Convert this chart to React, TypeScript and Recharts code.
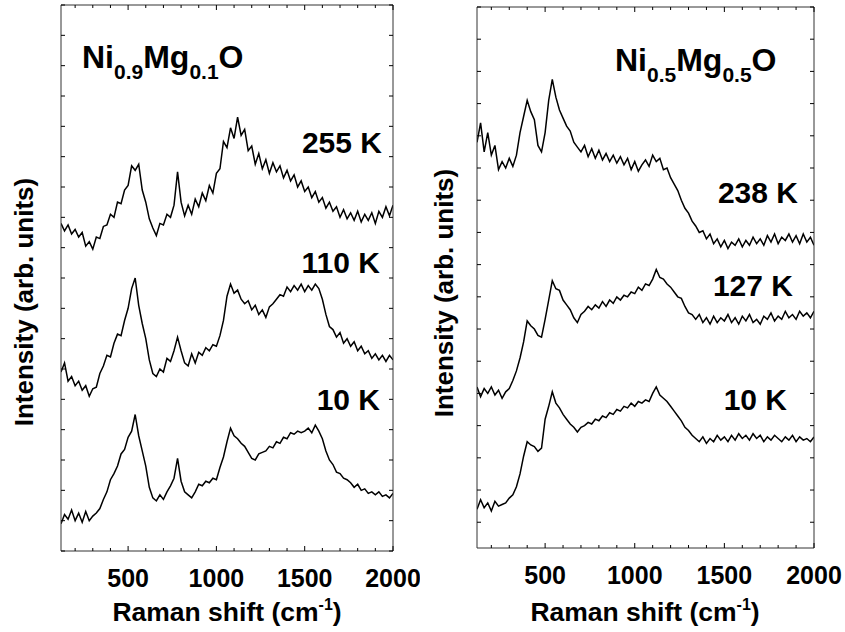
import React from 'react';
import { LineChart, Line, XAxis, YAxis } from 'recharts';

// Raman shift (cm-1), shared by all six spectra
const shift = [
  120, 140, 160, 180, 200, 220, 240, 260, 280, 300,
  320, 340, 360, 380, 400, 420, 440, 460, 480, 500,
  520, 540, 560, 580, 600, 620, 640, 660, 680, 700,
  720, 740, 760, 780, 800, 820, 840, 860, 880, 900,
  920, 940, 960, 980, 1000, 1020, 1040, 1060, 1080, 1100,
  1120, 1140, 1160, 1180, 1200, 1220, 1240, 1260, 1280, 1300,
  1320, 1340, 1360, 1380, 1400, 1420, 1440, 1460, 1480, 1500,
  1520, 1540, 1560, 1580, 1600, 1620, 1640, 1660, 1680, 1700,
  1720, 1740, 1760, 1780, 1800, 1820, 1840, 1860, 1880, 1900,
  1920, 1940, 1960, 1980, 2000,
];

// Ni0.9Mg0.1O
const ni09_255K = [
  10.8, 10.55, 10.75, 10.45, 10.6, 10.35, 10.5, 10.05, 10.2, 9.95,
  10.35, 10.3, 10.7, 10.75, 11.1, 11.0, 11.5, 11.45, 11.9, 12.05,
  12.7, 12.55, 12.75, 11.9, 11.5, 10.95, 10.65, 10.4, 10.8, 10.75,
  11.1, 11.0, 11.4, 12.5, 11.5, 11.05, 11.4, 11.1, 11.6, 11.35,
  11.8, 11.55, 12.05, 11.8, 12.45, 12.6, 13.5, 13.3, 13.95, 13.6,
  14.3, 13.7, 13.9, 13.2, 13.35, 12.75, 13.1, 12.6, 12.9, 12.45,
  12.8, 12.5, 12.7, 12.3, 12.55, 12.2, 12.4, 12.0, 12.2, 11.85,
  12.0, 11.65, 11.85, 11.5, 11.65, 11.3, 11.5, 11.2, 11.35, 11.0,
  11.25, 10.95, 11.15, 10.9, 11.2, 10.85, 11.1, 10.9, 11.15, 10.8,
  11.2, 11.0, 11.35, 11.05, 11.4,
];
const ni09_110K = [
  5.9, 6.2, 5.6, 5.75, 5.45, 5.6, 5.3, 5.45, 5.1, 5.35,
  5.4, 5.85, 6.1, 6.45, 6.4, 6.85, 7.15, 7.1, 7.6, 8.0,
  8.65, 9.0, 8.1, 7.5, 7.0, 6.3, 5.85, 5.75, 6.0, 5.9,
  6.35, 6.25, 6.6, 7.05, 6.6, 6.2, 6.1, 6.5, 6.2, 6.55,
  6.45, 6.7, 6.6, 6.8, 6.75, 7.1, 7.6, 8.4, 8.8, 8.5,
  8.6, 8.3, 8.15, 8.25, 7.95, 8.1, 7.8, 7.95, 7.7, 8.05,
  8.15, 8.3, 8.45, 8.4, 8.7, 8.55, 8.75, 8.6, 8.8, 8.55,
  8.75, 8.6, 8.8, 8.65, 8.3, 7.8, 7.4, 7.3, 7.05, 7.2,
  6.85, 7.0, 6.75, 6.9, 6.6, 6.75, 6.5, 6.6, 6.35, 6.5,
  6.3, 6.45, 6.25, 6.45, 6.3,
];
const ni09_10K = [
  0.9, 1.2, 1.05, 1.35, 1.0, 1.25, 0.95, 1.3, 1.0, 1.15,
  1.25, 1.4, 1.7, 1.95, 2.35, 2.55, 2.8, 3.2, 3.35, 3.75,
  3.95, 4.5, 3.8, 3.3, 2.8, 2.1, 1.75, 1.65, 1.85, 1.7,
  1.95, 2.15, 2.4, 3.05, 2.3, 1.95, 1.85, 1.75, 1.95, 2.2,
  2.15, 2.3, 2.25, 2.4, 2.35, 2.75, 3.1, 3.6, 4.05, 3.8,
  3.7, 3.55, 3.45, 3.25, 3.05, 3.0, 3.2, 3.25, 3.3, 3.45,
  3.4, 3.6, 3.55, 3.75, 3.7, 3.9, 3.85, 3.95, 3.9, 3.95,
  4.05, 3.9, 4.15, 3.95, 3.7, 3.3, 3.0, 2.85, 2.6, 2.55,
  2.4, 2.35, 2.25, 2.1, 2.2, 2.0, 2.05, 1.9, 1.95, 1.85,
  1.95, 1.8, 1.85, 1.75, 1.9,
];

// Ni0.5Mg0.5O
const ni05_238K = [
  11.8, 12.4, 11.5, 12.1, 11.4, 11.7, 10.95, 11.2, 11.0, 11.3,
  11.05, 11.4, 12.1, 12.6, 13.1, 12.75, 12.5, 11.7, 11.5, 12.1,
  13.1, 13.75, 13.2, 12.8, 12.55, 12.3, 12.15, 11.8, 11.65, 11.5,
  11.7, 11.35, 11.6, 11.3, 11.55, 11.25, 11.45, 11.2, 11.4, 11.15,
  11.35, 11.1, 11.3, 10.95, 11.2, 10.9, 11.1, 11.25, 11.05, 11.4,
  11.2, 11.3, 10.95, 11.0, 10.7, 10.5, 10.3, 10.0, 9.75, 9.6,
  9.35, 9.2, 9.0, 9.05, 8.8, 8.95, 8.65, 8.8, 8.55, 8.75,
  8.5, 8.7, 8.6, 8.8, 8.55, 8.75, 8.6, 8.85, 8.65, 8.8,
  8.6, 8.9, 8.7, 8.95, 8.65, 8.85, 8.75, 8.95, 8.7, 8.9,
  8.65, 8.95, 8.7, 8.85, 8.6,
];
const ni05_127K = [
  4.2, 3.9, 4.15, 4.0, 4.2, 3.95, 4.1, 3.85, 4.05, 4.15,
  4.4, 4.7, 5.1, 5.6, 6.25, 6.1, 6.0, 5.8, 5.75, 6.3,
  6.9, 7.5, 7.25, 7.2, 6.9, 6.75, 6.6, 6.35, 6.2, 6.45,
  6.55, 6.7, 6.6, 6.75, 6.65, 6.85, 6.7, 6.9, 6.8, 7.0,
  6.9, 7.05, 7.0, 7.15, 7.1, 7.3, 7.2, 7.4, 7.35, 7.55,
  7.85, 7.6, 7.55, 7.4, 7.3, 7.15, 7.0, 6.95, 6.7, 6.5,
  6.45, 6.3, 6.45, 6.2, 6.35, 6.15, 6.4, 6.2, 6.35, 6.25,
  6.45, 6.2, 6.35, 6.15, 6.4, 6.25, 6.45, 6.2, 6.3, 6.15,
  6.4, 6.3, 6.5, 6.25, 6.4, 6.3, 6.55, 6.35, 6.45, 6.3,
  6.55, 6.4, 6.5, 6.35, 6.55,
];
const ni05_10K = [
  0.4, 0.7, 0.45, 0.6, 0.35, 0.65, 0.5, 0.55, 0.6, 0.75,
  0.85, 1.1, 1.5, 2.05, 2.5, 2.4, 2.35, 2.2, 2.3, 3.2,
  3.6, 4.05, 3.7, 3.55, 3.35, 3.2, 3.05, 2.95, 2.8, 2.95,
  3.0, 3.1, 3.05, 3.2, 3.15, 3.3, 3.25, 3.4, 3.35, 3.5,
  3.45, 3.6, 3.55, 3.7, 3.6, 3.75, 3.7, 3.8, 3.75, 4.0,
  4.2, 3.95, 3.85, 3.75, 3.6, 3.45, 3.3, 3.15, 2.95, 2.85,
  2.7, 2.6, 2.5, 2.65, 2.45, 2.6, 2.5, 2.7, 2.55, 2.65,
  2.5, 2.7, 2.55, 2.75, 2.6, 2.7, 2.55, 2.75, 2.6, 2.7,
  2.5, 2.65, 2.55, 2.7, 2.6, 2.5, 2.65, 2.55, 2.7, 2.5,
  2.65, 2.55, 2.6, 2.5, 2.65,
];

const xTicks = [
  200, 300, 400, 500, 600, 700, 800, 900, 1000, 1100,
  1200, 1300, 1400, 1500, 1600, 1700, 1800, 1900, 2000,
];
const leftYTicks = [0, 1, 2, 3, 4, 5, 6, 7, 8, 9, 10, 11, 12, 13, 14, 15, 16, 17, 18];
const rightYTicks = [0, 1, 2, 3, 4, 5, 6, 7, 8, 9, 10, 11, 12, 13, 14, 15, 16];

const leftData = shift.map((s, i) => ({ shift: s, a: ni09_255K[i], b: ni09_110K[i], c: ni09_10K[i] }));
const rightData = shift.map((s, i) => ({ shift: s, a: ni05_238K[i], b: ni05_127K[i], c: ni05_10K[i] }));

const FONT = '"Liberation Sans", Arial, Helvetica, sans-serif';
const FRAME = '#333';

const BottomTick = (props: any) => {
  const { x, y, payload } = props;
  const major = payload.value % 500 === 0;
  return (
    <g>
      <line x1={x} y1={y} x2={x} y2={y - (major ? 5 : 3)} stroke="#000" />
      {major && (
        <text x={x} y={y + 36} textAnchor="middle" fontFamily={FONT} fontWeight="bold" fontSize={25} fill="#000">
          {payload.value}
        </text>
      )}
    </g>
  );
};
const TopTick = (props: any) => {
  const { x, y, payload } = props;
  const major = payload.value % 500 === 0;
  return <line x1={x} y1={y} x2={x} y2={y + (major ? 5 : 3)} stroke="#000" />;
};
const LeftTick = (props: any) => <line x1={props.x} y1={props.y} x2={props.x + 4} y2={props.y} stroke="#000" />;
const RightTick = (props: any) => <line x1={props.x} y1={props.y} x2={props.x - 4} y2={props.y} stroke="#000" />;

function Panel({ width, data, yDomain, yTicks, margin }: any) {
  return (
    <LineChart width={width} height={632} data={data} margin={margin}>
      <XAxis xAxisId="b" dataKey="shift" type="number" domain={[120, 2000]} ticks={xTicks} interval={0}
        height={1} tickSize={0} tickMargin={0} tickLine={false} tick={<BottomTick />} axisLine={{ stroke: FRAME }} allowDataOverflow />
      <XAxis xAxisId="t" orientation="top" dataKey="shift" type="number" domain={[120, 2000]} ticks={xTicks} interval={0}
        height={1} tickSize={0} tickMargin={0} tickLine={false} tick={<TopTick />} axisLine={{ stroke: FRAME }} allowDataOverflow />
      <YAxis yAxisId="l" type="number" domain={yDomain} ticks={yTicks} interval={0}
        width={1} tickSize={0} tickMargin={0} tickLine={false} tick={<LeftTick />} axisLine={{ stroke: FRAME }} allowDataOverflow />
      <YAxis yAxisId="r" orientation="right" type="number" domain={yDomain} ticks={yTicks} interval={0}
        width={1} tickSize={0} tickMargin={0} tickLine={false} tick={<RightTick />} axisLine={{ stroke: FRAME }} allowDataOverflow />
      {['a', 'b', 'c'].map((k) => (
        <Line key={k} xAxisId="b" yAxisId="l" dataKey={k} type="linear" stroke="#000" strokeWidth={1.5}
          dot={false} activeDot={false} isAnimationActive={false} />
      ))}
    </LineChart>
  );
}

const txt = { fontFamily: FONT, fontWeight: 'bold' as const, fill: '#000' };

export default function App() {
  return (
    <div style={{ position: 'absolute', left: 0, top: 0, width: 845, height: 632, background: '#fff', overflow: 'hidden' }}>
      <div style={{ position: 'absolute', left: 0, top: 0 }}>
        <Panel width={420} data={leftData} yDomain={[0, 18]} yTicks={leftYTicks} margin={{ top: 4, right: 26, bottom: 80, left: 60 }} />
      </div>
      <div style={{ position: 'absolute', left: 420, top: 0 }}>
        <Panel width={425} data={rightData} yDomain={[-0.8, 16]} yTicks={rightYTicks} margin={{ top: 6, right: 30, bottom: 83, left: 56 }} />
      </div>
      <svg width={845} height={632} style={{ position: 'absolute', left: 0, top: 0, pointerEvents: 'none' }}>
        {/* panel titles */}
        <text x={82} y={68} fontSize={32} {...txt}>
          Ni<tspan fontSize={21} dy={11}>0.9</tspan>
          <tspan dy={-11}>Mg</tspan>
          <tspan fontSize={21} dy={11}>0.1</tspan>
          <tspan dy={-11}>O</tspan>
        </text>
        <text x={615} y={71} fontSize={32} {...txt}>
          Ni<tspan fontSize={21} dy={11}>0.5</tspan>
          <tspan dy={-11}>Mg</tspan>
          <tspan fontSize={21} dy={11}>0.5</tspan>
          <tspan dy={-11}>O</tspan>
        </text>

        {/* temperatures */}
        <text x={382} y={153} fontSize={30} textAnchor="end" {...txt}>255 K</text>
        <text x={380} y={273} fontSize={30} textAnchor="end" {...txt}>110 K</text>
        <text x={380} y={410} fontSize={30} textAnchor="end" {...txt}>10 K</text>
        <text x={798} y={203} fontSize={30} textAnchor="end" {...txt}>238 K</text>
        <text x={793} y={296} fontSize={30} textAnchor="end" {...txt}>127 K</text>
        <text x={787} y={410} fontSize={30} textAnchor="end" {...txt}>10 K</text>

        {/* axis titles */}
        <text x={227} y={621} fontSize={26.5} textAnchor="middle" {...txt}>
          Raman shift (cm<tspan fontSize={16} dy={-11}>-1</tspan><tspan dy={11}>)</tspan>
        </text>
        <text x={645} y={621} fontSize={26.5} textAnchor="middle" {...txt}>
          Raman shift (cm<tspan fontSize={16} dy={-11}>-1</tspan><tspan dy={11}>)</tspan>
        </text>
        <text x={33} y={302} fontSize={26} textAnchor="middle" transform="rotate(-90 33 302)" {...txt}>
          Intensity (arb. units)
        </text>
        <text x={453} y={293} fontSize={26} textAnchor="middle" transform="rotate(-90 453 293)" {...txt}>
          Intensity (arb. units)
        </text>
      </svg>
    </div>
  );
}
